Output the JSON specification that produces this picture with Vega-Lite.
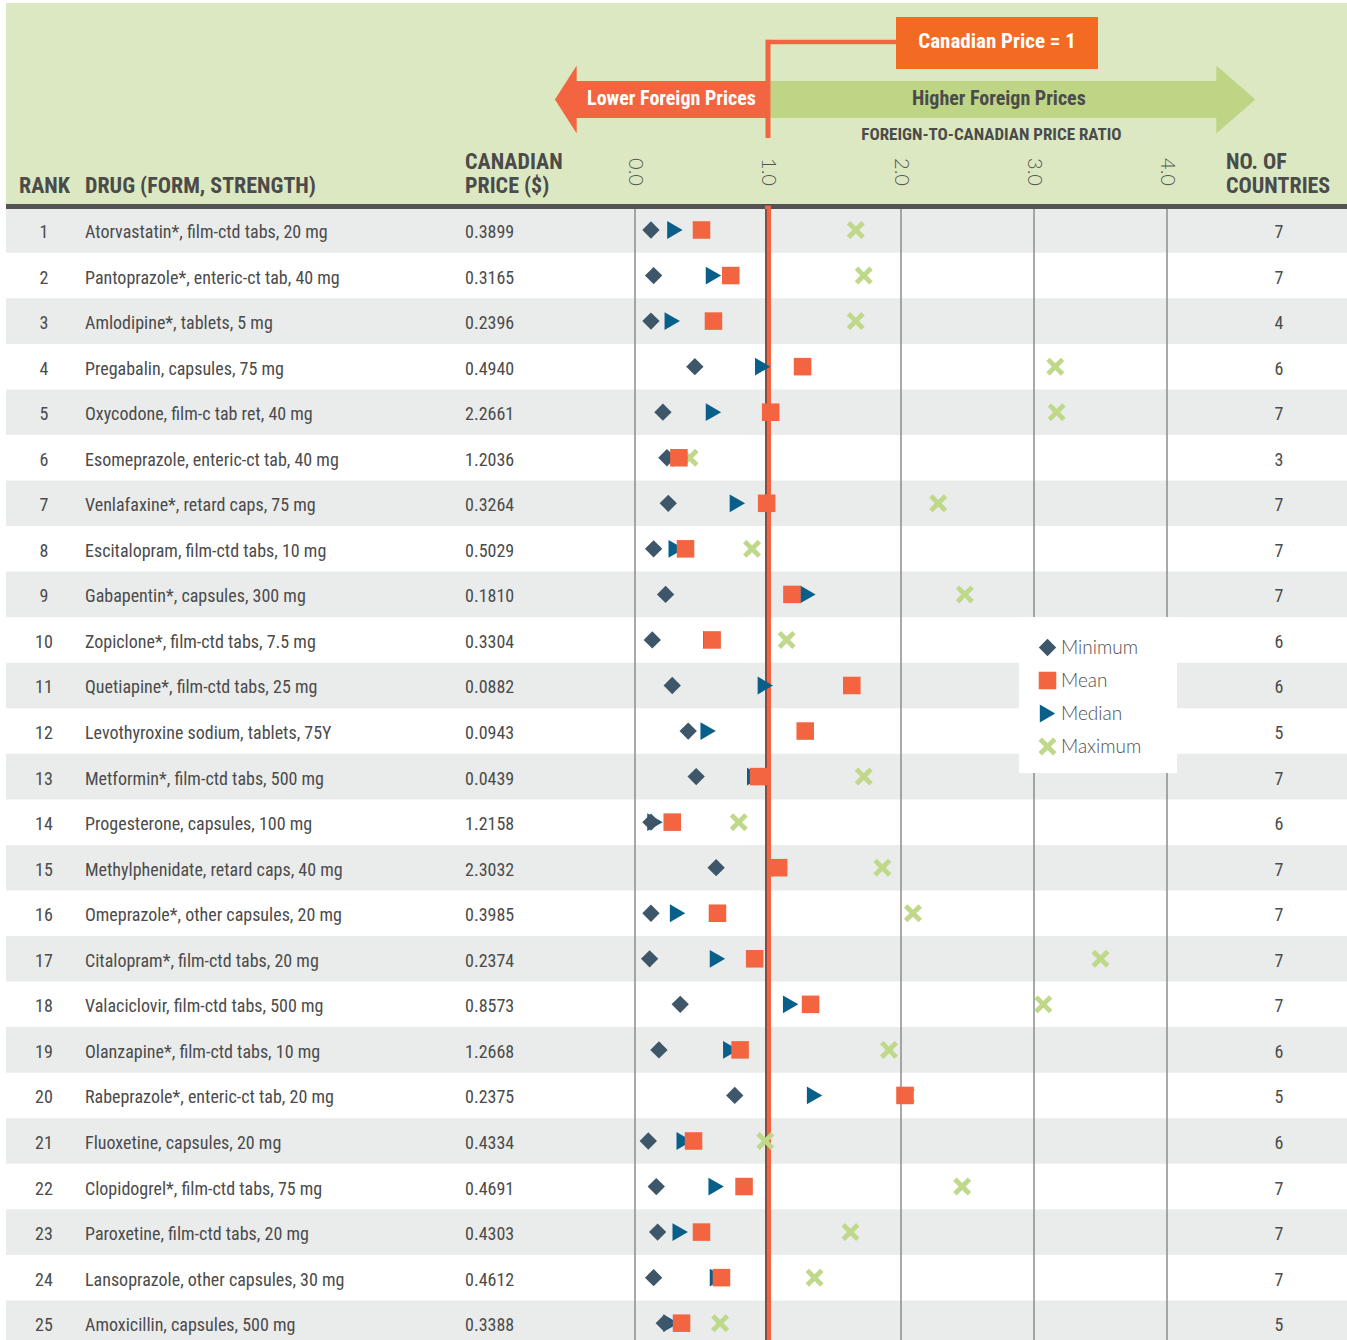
{
  "$schema": "https://vega.github.io/schema/vega-lite/v6.json",
  "width": 1347,
  "height": 1340,
  "autosize": {"type": "none"},
  "padding": 0,
  "background": "#ffffff",
  "config": {"view": {"stroke": null}, "axis": {"disable": true}},
  "data": {"values": [
    {"rank": 1, "drug": "Atorvastatin*, film-ctd tabs, 20 mg", "price": 0.3899, "countries": 7, "Minimum": 0.12, "Median": 0.30, "Mean": 0.50, "Maximum": 1.66},
    {"rank": 2, "drug": "Pantoprazole*, enteric-ct tab, 40 mg", "price": 0.3165, "countries": 7, "Minimum": 0.14, "Median": 0.59, "Mean": 0.72, "Maximum": 1.72},
    {"rank": 3, "drug": "Amlodipine*, tablets, 5 mg", "price": 0.2396, "countries": 4, "Minimum": 0.12, "Median": 0.28, "Mean": 0.59, "Maximum": 1.66},
    {"rank": 4, "drug": "Pregabalin, capsules, 75 mg", "price": 0.4940, "countries": 6, "Minimum": 0.45, "Median": 0.96, "Mean": 1.26, "Maximum": 3.16},
    {"rank": 5, "drug": "Oxycodone, film-c tab ret, 40 mg", "price": 2.2661, "countries": 7, "Minimum": 0.21, "Median": 0.59, "Mean": 1.02, "Maximum": 3.17},
    {"rank": 6, "drug": "Esomeprazole, enteric-ct tab, 40 mg", "price": 1.2036, "countries": 3, "Minimum": 0.24, "Median": 0.34, "Mean": 0.33, "Maximum": 0.41},
    {"rank": 7, "drug": "Venlafaxine*, retard caps, 75 mg", "price": 0.3264, "countries": 7, "Minimum": 0.25, "Median": 0.77, "Mean": 0.99, "Maximum": 2.28},
    {"rank": 8, "drug": "Escitalopram, film-ctd tabs, 10 mg", "price": 0.5029, "countries": 7, "Minimum": 0.14, "Median": 0.31, "Mean": 0.38, "Maximum": 0.88},
    {"rank": 9, "drug": "Gabapentin*, capsules, 300 mg", "price": 0.1810, "countries": 7, "Minimum": 0.23, "Median": 1.30, "Mean": 1.18, "Maximum": 2.48},
    {"rank": 10, "drug": "Zopiclone*, film-ctd tabs, 7.5 mg", "price": 0.3304, "countries": 6, "Minimum": 0.13, "Median": 0.57, "Mean": 0.58, "Maximum": 1.14},
    {"rank": 11, "drug": "Quetiapine*, film-ctd tabs, 25 mg", "price": 0.0882, "countries": 6, "Minimum": 0.28, "Median": 0.98, "Mean": 1.63, "Maximum": 3.40},
    {"rank": 12, "drug": "Levothyroxine sodium, tablets, 75Y", "price": 0.0943, "countries": 5, "Minimum": 0.40, "Median": 0.55, "Mean": 1.28, "Maximum": 3.55},
    {"rank": 13, "drug": "Metformin*, film-ctd tabs, 500 mg", "price": 0.0439, "countries": 7, "Minimum": 0.46, "Median": 0.90, "Mean": 0.93, "Maximum": 1.72},
    {"rank": 14, "drug": "Progesterone, capsules, 100 mg", "price": 1.2158, "countries": 6, "Minimum": 0.12, "Median": 0.15, "Mean": 0.28, "Maximum": 0.78},
    {"rank": 15, "drug": "Methylphenidate, retard caps, 40 mg", "price": 2.3032, "countries": 7, "Minimum": 0.61, "Median": 1.09, "Mean": 1.08, "Maximum": 1.86},
    {"rank": 16, "drug": "Omeprazole*, other capsules, 20 mg", "price": 0.3985, "countries": 7, "Minimum": 0.12, "Median": 0.32, "Mean": 0.62, "Maximum": 2.09},
    {"rank": 17, "drug": "Citalopram*, film-ctd tabs, 20 mg", "price": 0.2374, "countries": 7, "Minimum": 0.11, "Median": 0.62, "Mean": 0.90, "Maximum": 3.50},
    {"rank": 18, "drug": "Valaciclovir, film-ctd tabs, 500 mg", "price": 0.8573, "countries": 7, "Minimum": 0.34, "Median": 1.17, "Mean": 1.32, "Maximum": 3.07},
    {"rank": 19, "drug": "Olanzapine*, film-ctd tabs, 10 mg", "price": 1.2668, "countries": 6, "Minimum": 0.18, "Median": 0.72, "Mean": 0.79, "Maximum": 1.91},
    {"rank": 20, "drug": "Rabeprazole*, enteric-ct tab, 20 mg", "price": 0.2375, "countries": 5, "Minimum": 0.75, "Median": 1.35, "Mean": 2.03, "Maximum": 2.04},
    {"rank": 21, "drug": "Fluoxetine, capsules, 20 mg", "price": 0.4334, "countries": 6, "Minimum": 0.10, "Median": 0.37, "Mean": 0.44, "Maximum": 0.98},
    {"rank": 22, "drug": "Clopidogrel*, film-ctd tabs, 75 mg", "price": 0.4691, "countries": 7, "Minimum": 0.16, "Median": 0.61, "Mean": 0.82, "Maximum": 2.46},
    {"rank": 23, "drug": "Paroxetine, film-ctd tabs, 20 mg", "price": 0.4303, "countries": 7, "Minimum": 0.17, "Median": 0.34, "Mean": 0.50, "Maximum": 1.62},
    {"rank": 24, "drug": "Lansoprazole, other capsules, 30 mg", "price": 0.4612, "countries": 7, "Minimum": 0.14, "Median": 0.62, "Mean": 0.65, "Maximum": 1.35},
    {"rank": 25, "drug": "Amoxicillin, capsules, 500 mg", "price": 0.3388, "countries": 5, "Minimum": 0.22, "Median": 0.27, "Mean": 0.35, "Maximum": 0.64}
  ]},
  "layer": [
    {"data": {"values": [{}]}, "mark": {"type": "rect", "color": "#dce8c1"},
     "encoding": {
       "x": {"datum": -4.729, "type": "quantitative", "scale": {"domain": [-4.7744, 5.3534], "nice": false, "zero": false}},
       "x2": {"datum": 5.3534},
       "y": {"datum": -3.9835, "type": "quantitative", "scale": {"domain": [-4.0494, 25.369], "nice": false, "zero": false, "reverse": true}},
       "y2": {"datum": 0.4292}}},
    {"transform": [{"filter": "datum.rank % 2 == 1"}],
     "mark": {"type": "rule", "color": "#eaeceb", "strokeWidth": 45.6, "strokeCap": "butt"},
     "encoding": {"x": {"datum": -4.729}, "x2": {"datum": 5.3534}, "y": {"field": "rank", "type": "quantitative"}}},
    {"data": {"values": [{"g": 0}, {"g": 2}, {"g": 3}, {"g": 4}]},
     "mark": {"type": "rule", "color": "#8c8c8c", "strokeWidth": 1.5},
     "encoding": {"x": {"field": "g", "type": "quantitative"}, "y": {"datum": 0.484}, "y2": {"datum": 25.369}}},
    {"data": {"values": [{}]}, "mark": {"type": "rule", "color": "#545454", "strokeWidth": 5, "strokeCap": "butt"},
     "encoding": {"x": {"datum": -4.729}, "x2": {"datum": 5.3534}, "y": {"datum": 0.4841}}},
    {"data": {"values": [{}]}, "mark": {"type": "rule", "color": "#f26540", "strokeWidth": 6, "strokeCap": "butt"},
     "encoding": {"x": {"datum": 1}, "y": {"datum": 0.47}, "y2": {"datum": 25.369}}},
    {"data": {"values": [{}]}, "mark": {"type": "rule", "color": "#5a4a44", "strokeWidth": 1.5, "strokeCap": "butt"},
     "encoding": {"x": {"datum": 0.985}, "y": {"datum": 0.54}, "y2": {"datum": 25.369}}},
    {"data": {"values": [{}]}, "mark": {"type": "rect", "color": "#f26540"},
     "encoding": {"x": {"datum": -0.4511}, "x2": {"datum": 1.0}, "y": {"datum": -2.2711}, "y2": {"datum": -1.4589}}},
    {"data": {"values": [{}]}, "mark": {"type": "rect", "color": "#bed586"},
     "encoding": {"x": {"datum": 1.0}, "x2": {"datum": 4.3835}, "y": {"datum": -2.2711}, "y2": {"datum": -1.4589}}},
    {"data": {"values": [{}]}, "mark": {"type": "point", "filled": true, "opacity": 1, "color": "#f26540", "strokeWidth": 0, "size": 4624, "shape": "M0.05,-1 L0.05,1 L-0.59,0 Z"},
     "encoding": {"x": {"datum": -0.4511}, "y": {"datum": -1.865}}},
    {"data": {"values": [{}]}, "mark": {"type": "point", "filled": true, "opacity": 1, "color": "#bed586", "strokeWidth": 0, "size": 4624, "shape": "M-0.05,-1 L-0.05,1 L1.1,0 Z"},
     "encoding": {"x": {"datum": 4.3835}, "y": {"datum": -1.865}}},
    {"data": {"values": [{}]}, "mark": {"type": "rule", "color": "#f26540", "strokeWidth": 5, "strokeCap": "butt"},
     "encoding": {"x": {"datum": 1.0}, "y": {"datum": -3.175}, "y2": {"datum": -1.0198}}},
    {"data": {"values": [{}]}, "mark": {"type": "rule", "color": "#f26540", "strokeWidth": 4.5, "strokeCap": "butt"},
     "encoding": {"x": {"datum": 0.985}, "x2": {"datum": 1.9624}, "y": {"datum": -3.1273}}},
    {"data": {"values": [{}]}, "mark": {"type": "rect", "color": "#f36b22"},
     "encoding": {"x": {"datum": 1.9624}, "x2": {"datum": 3.4812}, "y": {"datum": -3.6762}, "y2": {"datum": -2.5346}}},
    {"data": {"values": [{}]}, "mark": {"type": "text", "font": "Roboto Condensed", "fontWeight": "bold", "fontSize": 21, "color": "#ffffff", "align": "center", "baseline": "middle"},
     "encoding": {"x": {"datum": 2.7218}, "y": {"datum": -3.1273}, "text": {"value": "Canadian Price = 1"}}},
    {"data": {"values": [{}]}, "mark": {"type": "text", "font": "Roboto Condensed", "fontWeight": "bold", "fontSize": 20, "color": "#ffffff", "align": "center", "baseline": "middle"},
     "encoding": {"x": {"datum": 0.274}, "y": {"datum": -1.865}, "text": {"value": "Lower Foreign Prices"}}},
    {"data": {"values": [{}]}, "mark": {"type": "text", "font": "Roboto Condensed", "fontWeight": "bold", "fontSize": 20, "color": "#4b4b4b", "align": "center", "baseline": "middle"},
     "encoding": {"x": {"datum": 2.736}, "y": {"datum": -1.865}, "text": {"value": "Higher Foreign Prices"}}},
    {"data": {"values": [{}]}, "mark": {"type": "text", "font": "Roboto Condensed", "fontWeight": "bold", "fontSize": 17, "color": "#4b4b4b", "align": "center", "baseline": "middle"},
     "encoding": {"x": {"datum": 2.68}, "y": {"datum": -1.0856}, "text": {"value": "FOREIGN-TO-CANADIAN PRICE RATIO"}}},
    {"data": {"values": [{}]}, "mark": {"type": "text", "font": "Roboto Condensed", "fontWeight": "bold", "fontSize": 22, "color": "#4b4b4b", "align": "left", "baseline": "middle"},
     "encoding": {"x": {"datum": -4.6316}, "y": {"datum": 0.034}, "text": {"value": "RANK"}}},
    {"data": {"values": [{}]}, "mark": {"type": "text", "font": "Roboto Condensed", "fontWeight": "bold", "fontSize": 22, "color": "#4b4b4b", "align": "left", "baseline": "middle"},
     "encoding": {"x": {"datum": -4.1353}, "y": {"datum": 0.034}, "text": {"value": "DRUG (FORM, STRENGTH)"}}},
    {"data": {"values": [{}]}, "mark": {"type": "text", "font": "Roboto Condensed", "fontWeight": "bold", "fontSize": 22, "color": "#4b4b4b", "align": "left", "baseline": "middle"},
     "encoding": {"x": {"datum": -1.2782}, "y": {"datum": -0.4929}, "text": {"value": "CANADIAN"}}},
    {"data": {"values": [{}]}, "mark": {"type": "text", "font": "Roboto Condensed", "fontWeight": "bold", "fontSize": 22, "color": "#4b4b4b", "align": "left", "baseline": "middle"},
     "encoding": {"x": {"datum": -1.2782}, "y": {"datum": 0.034}, "text": {"value": "PRICE ($)"}}},
    {"data": {"values": [{}]}, "mark": {"type": "text", "font": "Roboto Condensed", "fontWeight": "bold", "fontSize": 22, "color": "#4b4b4b", "align": "left", "baseline": "middle"},
     "encoding": {"x": {"datum": 4.4436}, "y": {"datum": -0.4929}, "text": {"value": "NO. OF"}}},
    {"data": {"values": [{}]}, "mark": {"type": "text", "font": "Roboto Condensed", "fontWeight": "bold", "fontSize": 22, "color": "#4b4b4b", "align": "left", "baseline": "middle"},
     "encoding": {"x": {"datum": 4.4436}, "y": {"datum": 0.034}, "text": {"value": "COUNTRIES"}}},
    {"data": {"values": [{"v": 0, "t": "0.0"}, {"v": 1, "t": "1.0"}, {"v": 2, "t": "2.0"}, {"v": 3, "t": "3.0"}, {"v": 4, "t": "4.0"}]},
     "mark": {"type": "text", "font": "Lato", "fontWeight": 300, "fontSize": 20, "color": "#555555", "align": "center", "baseline": "middle", "angle": 90},
     "encoding": {"x": {"field": "v", "type": "quantitative"}, "y": {"datum": -0.2733}, "text": {"field": "t"}}},
    {"mark": {"type": "text", "font": "Roboto Condensed", "fontSize": 18, "color": "#4b4b4b", "align": "center", "baseline": "middle", "dy": 3},
     "encoding": {"x": {"datum": -4.4436}, "y": {"field": "rank", "type": "quantitative"}, "text": {"field": "rank", "type": "quantitative"}}},
    {"mark": {"type": "text", "font": "Roboto Condensed", "fontSize": 18, "color": "#4b4b4b", "align": "left", "baseline": "middle", "dy": 3},
     "encoding": {"x": {"datum": -4.1353}, "y": {"field": "rank", "type": "quantitative"}, "text": {"field": "drug", "type": "nominal"}}},
    {"mark": {"type": "text", "font": "Roboto Condensed", "fontSize": 18, "color": "#4b4b4b", "align": "left", "baseline": "middle", "dy": 3},
     "encoding": {"x": {"datum": -1.2782}, "y": {"field": "rank", "type": "quantitative"}, "text": {"field": "price", "type": "quantitative", "format": ".4f"}}},
    {"mark": {"type": "text", "font": "Roboto Condensed", "fontSize": 18, "color": "#4b4b4b", "align": "center", "baseline": "middle", "dy": 3},
     "encoding": {"x": {"datum": 4.8421}, "y": {"field": "rank", "type": "quantitative"}, "text": {"field": "countries", "type": "quantitative"}}},
    {"transform": [{"fold": ["Maximum", "Median", "Minimum", "Mean"], "as": ["stat", "ratio"]}],
     "mark": {"type": "point", "filled": true, "opacity": 1, "strokeWidth": 0},
     "encoding": {
       "x": {"field": "ratio", "type": "quantitative"},
       "y": {"field": "rank", "type": "quantitative"},
       "color": {"field": "stat", "type": "nominal",
         "scale": {"domain": ["Minimum", "Mean", "Median", "Maximum"], "range": ["#3e5669", "#f26540", "#08608a", "#bfd88a"]},
         "legend": {"title": null, "orient": "none", "legendX": 1038, "legendY": 638, "padding": 0, "labelFont": "Lato", "labelFontWeight": 300, "labelFontSize": 19, "labelColor": "#505050", "symbolSize": 256, "rowPadding": 13, "labelOffset": 4, "symbolStrokeWidth": 0, "symbolOpacity": 1}},
       "shape": {"field": "stat", "type": "nominal",
         "scale": {"domain": ["Minimum", "Mean", "Median", "Maximum"], "range": ["diamond", "square", "triangle-right", "M-1,-0.62 L-0.62,-1 L0,-0.38 L0.62,-1 L1,-0.62 L0.38,0 L1,0.62 L0.62,1 L0,0.38 L-0.62,1 L-1,0.62 L-0.38,0 Z"]}},
       "size": {"field": "stat", "type": "ordinal", "legend": null,
         "scale": {"domain": ["Minimum", "Mean", "Median", "Maximum"], "range": [300, 324, 300, 290]}}
     }},
    {"data": {"values": [{}]}, "mark": {"type": "rect", "color": "#ffffff"},
     "encoding": {"x": {"datum": 2.887}, "x2": {"datum": 4.075}, "y": {"datum": 9.496}, "y2": {"datum": 12.921}}}
  ]
}
